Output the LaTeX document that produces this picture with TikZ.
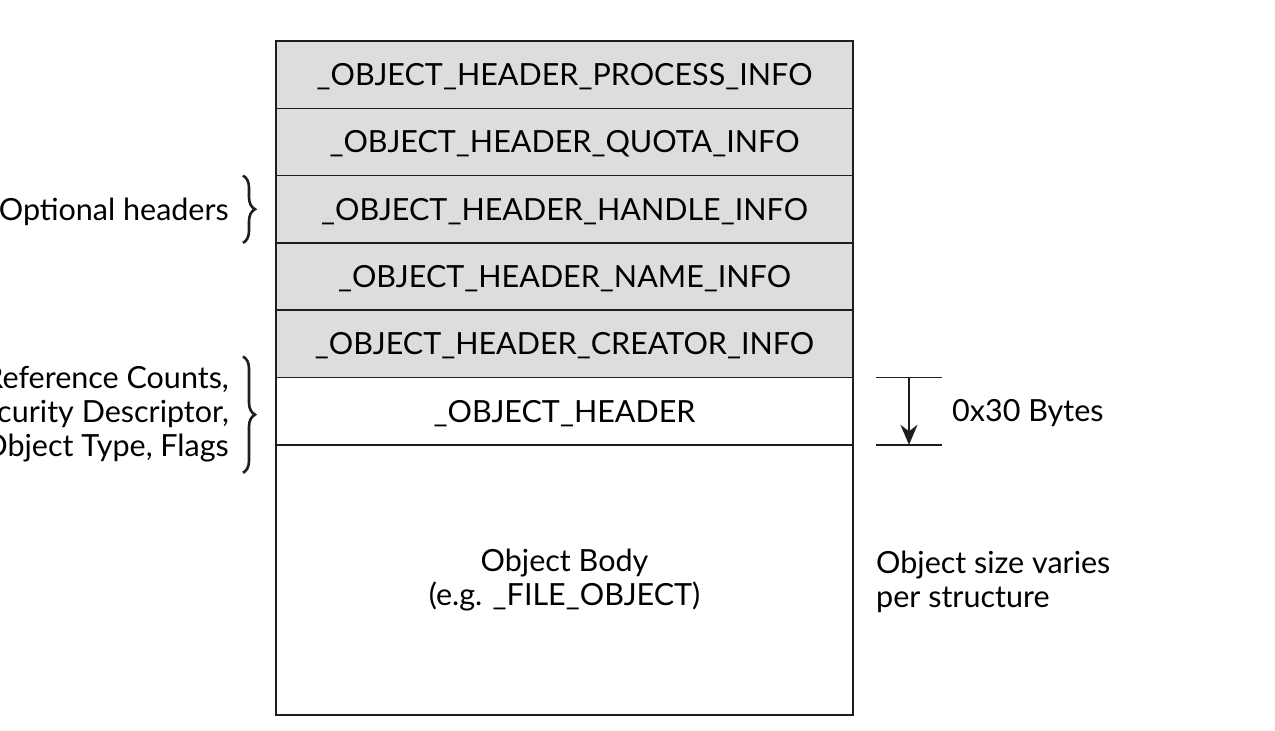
\documentclass[tikz,border=0pt]{standalone}
\usepackage{fontspec}
\setmainfont{Lato}
\usetikzlibrary{arrows.meta,positioning,decorations.pathreplacing}
\definecolor{obedge}{RGB}{30,30,30}
\definecolor{obhdr}{RGB}{221,221,221}
\tikzset{
  obbox/.style={
    draw=obedge, line width=1.6pt, minimum width=577pt, minimum height=67.3pt,
    inner sep=0pt, outer sep=0pt, align=center, font=\fontsize{30.5}{34}\selectfont
  },
  row/.style={obbox, text height=22pt, text depth=0pt},
  opt/.style={row, fill=obhdr},
  core/.style={row, fill=white},
  body/.style={obbox, fill=white, minimum height=270pt},
  brc/.style={decorate, decoration={brace, amplitude=12pt}, draw=obedge, line width=2.6pt},
  anno/.style={font=\fontsize{30.5}{34}\selectfont, inner sep=0pt},
  tick/.style={draw=obedge, line width=1.6pt},
  arr/.style={-{Stealth[length=20pt,width=17pt]}, draw=obedge, line width=2.2pt}
}
\begin{document}
\begin{tikzpicture}[x=1pt,y=-1pt]
  \useasboundingbox (0,0) rectangle (1275,731);
  % header stack
  \node[opt, anchor=north] (procinfo) at (564.5,41) {\_OBJECT\_HEADER\_PROCESS\_INFO};
  \node[opt, below=0pt of procinfo] (quotainfo) {\_OBJECT\_HEADER\_QUOTA\_INFO};
  \node[opt, below=0pt of quotainfo] (handleinfo) {\_OBJECT\_HEADER\_HANDLE\_INFO};
  \node[opt, below=0pt of handleinfo] (nameinfo) {\_OBJECT\_HEADER\_NAME\_INFO};
  \node[opt, below=0pt of nameinfo] (creatorinfo) {\_OBJECT\_HEADER\_CREATOR\_INFO};
  \node[core, below=0pt of creatorinfo] (objhdr) {\_OBJECT\_HEADER};
  \node[body, below=0pt of objhdr] (objbody) {Object Body\\(e.g. \_FILE\_OBJECT)};
  % left side
  \draw[brc] ([xshift=-33pt]handleinfo.north west) -- ([xshift=-33pt]handleinfo.south west);
  \node[anno, anchor=east] (optlbl) at (229,212) {Optional headers};
  \draw[brc] ([xshift=-33pt,yshift=21pt]objhdr.north west) -- ([xshift=-33pt,yshift=-28pt]objhdr.south west);
  \node[anno, anchor=east, align=right] (hdrlbl) at (229,414)
    {Reference Counts,\\Security Descriptor,\\Object Type, Flags};
  % right side
  \draw[tick] ([xshift=23pt]objhdr.north east) -- ++(66,0);
  \draw[tick] ([xshift=23pt]objhdr.south east) -- ++(66,0);
  \draw[arr] ([xshift=56pt]objhdr.north east) -- ([xshift=56pt]objhdr.south east);
  \node[anno, anchor=west] (sizelbl) at (952,413) {0x30 Bytes};
  \node[anno, anchor=west, align=left] (varylbl) at (876,582) {Object size varies\\per structure};
\end{tikzpicture}
\end{document}
